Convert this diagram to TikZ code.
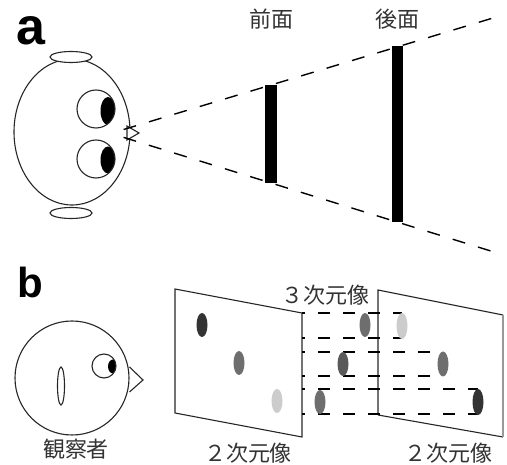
\documentclass[tikz,border=0pt]{standalone}
\usepackage{fontspec}
\newfontfamily\jpfont{Noto Sans CJK JP}
\newfontfamily\panelfont{Liberation Sans}

\definecolor{dotdark}{gray}{0.2}
\definecolor{dotmid}{gray}{0.43}
\definecolor{dotlight}{gray}{0.8}

\tikzset{
  outline/.style={line width=1.1pt, draw=black!85},
  jplabel/.style={inner sep=0pt, text=black!80, font=\jpfont\fontsize{22}{22}\selectfont},
  panel/.style={inner sep=0pt, anchor=base west, font=\panelfont\bfseries},
  viewline/.style={line width=1.4pt, dash pattern=on 13pt off 13.5pt, dash phase=13pt},
  depthline/.style={line width=1.3pt, dash pattern=on 12pt off 13pt, dash phase=9pt}
}

\begin{document}
\begin{tikzpicture}[x=1pt,y=1pt,yscale=-1,xscale=1]
\useasboundingbox (0,0) rectangle (507,465);

% ---------- a : top view ----------
%Shape: Ellipse (head)
\draw [outline]  (72,132) ellipse (58 and 73) ;
%Shape: Ellipse (ears)
\draw [outline, fill=white]  (71,57) ellipse (21 and 5.5) ;
\draw [outline, fill=white]  (71,213) ellipse (21 and 5.5) ;
%Shape: Circle (eyes)
\begin{scope}
  \clip (96,109) circle (19) ;
  \fill (108,111) ellipse (7.5 and 14) ;
\end{scope}
\draw [outline]  (96,109) circle (19) ;
\begin{scope}
  \clip (96,159) circle (19) ;
  \fill (108,160) ellipse (7.5 and 13.5) ;
\end{scope}
\draw [outline]  (96,159) circle (19) ;
%Shape: Triangle (nose)
\draw [outline, fill=white]  (127,126) -- (139,133) -- (127,140) -- cycle ;

%Straight Lines (view cone)
\coordinate (apex) at (110.7,133.4) ;
\coordinate (conetop) at (494,17.7) ;
\coordinate (conebot) at (494,252) ;
\draw [viewline]  (apex) -- (conetop) ;
\draw [viewline]  (apex) -- (conebot) ;

%Shape: Rectangle (front and back planes)
\fill  (265,85) rectangle (277,183) ;
\fill  (392,46) rectangle (403,222) ;

% Text Node
\node [panel, font=\panelfont\bfseries\fontsize{52}{52}\selectfont] (labela) at (16,45) {a};
% Text Node
\node [jplabel] (front) at (271,19) {前面};
% Text Node
\node [jplabel] (back) at (397,19) {後面};

% ---------- b : observer and images ----------
%Shape: Circle (head)
\draw [outline]  (72,378) circle (57) ;
%Shape: Ellipse (ear)
\draw [outline]  (61,386) ellipse (3.5 and 19) ;
%Shape: Circle (eye)
\begin{scope}
  \clip (104,366) circle (12) ;
  \fill (113,366.5) ellipse (5 and 7) ;
\end{scope}
\draw [outline]  (104,366) circle (12) ;
%Shape: Triangle (nose)
\draw [outline]  (129.5,367) -- (143,380) -- (129.5,392) ;

%Shape: Polygon (left image plane)
\draw [outline]  (175,289) -- (302,313) -- (302,437) -- (175,413) -- cycle ;
%Shape: Polygon (right image plane)
\draw [outline]  (378,415) -- (378,290) -- (503,315) ;
\draw [outline]  (378,415) -- (503,437) ;
\draw [line width=2.6pt, draw=black!40]  (503,315) -- (503,437) ;

%Straight Lines (depth)
\coordinate (ta) at (302,313) ;  \coordinate (tae) at (402,313) ;
\coordinate (tb) at (302,338) ;  \coordinate (tbe) at (402,338) ;
\coordinate (ma) at (302,352) ;  \coordinate (mae) at (442,352) ;
\coordinate (mb) at (302,376) ;  \coordinate (mbe) at (442,376) ;
\coordinate (ba) at (302,389) ;  \coordinate (bae) at (478,389) ;
\coordinate (bb) at (302,414) ;  \coordinate (bbe) at (478,414) ;
\draw [depthline]  (ta) -- (tae) ;
\draw [depthline]  (tb) -- (tbe) ;
\draw [depthline]  (ma) -- (mae) ;
\draw [depthline]  (mb) -- (mbe) ;
\draw [depthline]  (ba) -- (bae) ;
\draw [depthline]  (bb) -- (bbe) ;

%Shape: Ellipse (points on left plane)
\fill [dotdark]  (202,325) ellipse (5.5 and 12) ;
\fill [dotmid]  (239,363) ellipse (5.5 and 12) ;
\fill [dotlight]  (277,401) ellipse (5.5 and 12) ;
%Shape: Ellipse (3d points)
\fill [dotmid]  (365,325) ellipse (5.5 and 12) ;
\fill [black!65]  (343,364) ellipse (5.5 and 12) ;
\fill [dotmid]  (320,402) ellipse (5.5 and 12) ;
%Shape: Ellipse (points on right plane)
\fill [dotlight]  (402,326) ellipse (5.5 and 13) ;
\fill [dotmid]  (443,364) ellipse (5.5 and 12.5) ;
\fill [dotdark]  (478,402) ellipse (5.5 and 13) ;

% Text Node
\node [panel, font=\panelfont\bfseries\fontsize{42}{42}\selectfont] (labelb) at (17,298) {b};
% Text Node
\node [jplabel] (viewer) at (76,449) {観察者};
% Text Node
\node [jplabel] (image3d) at (325,295) {３次元像};
% Text Node
\node [jplabel] (imageleft) at (248,453) {２次元像};
% Text Node
\node [jplabel] (imageright) at (448,453) {２次元像};

\end{tikzpicture}
\end{document}
